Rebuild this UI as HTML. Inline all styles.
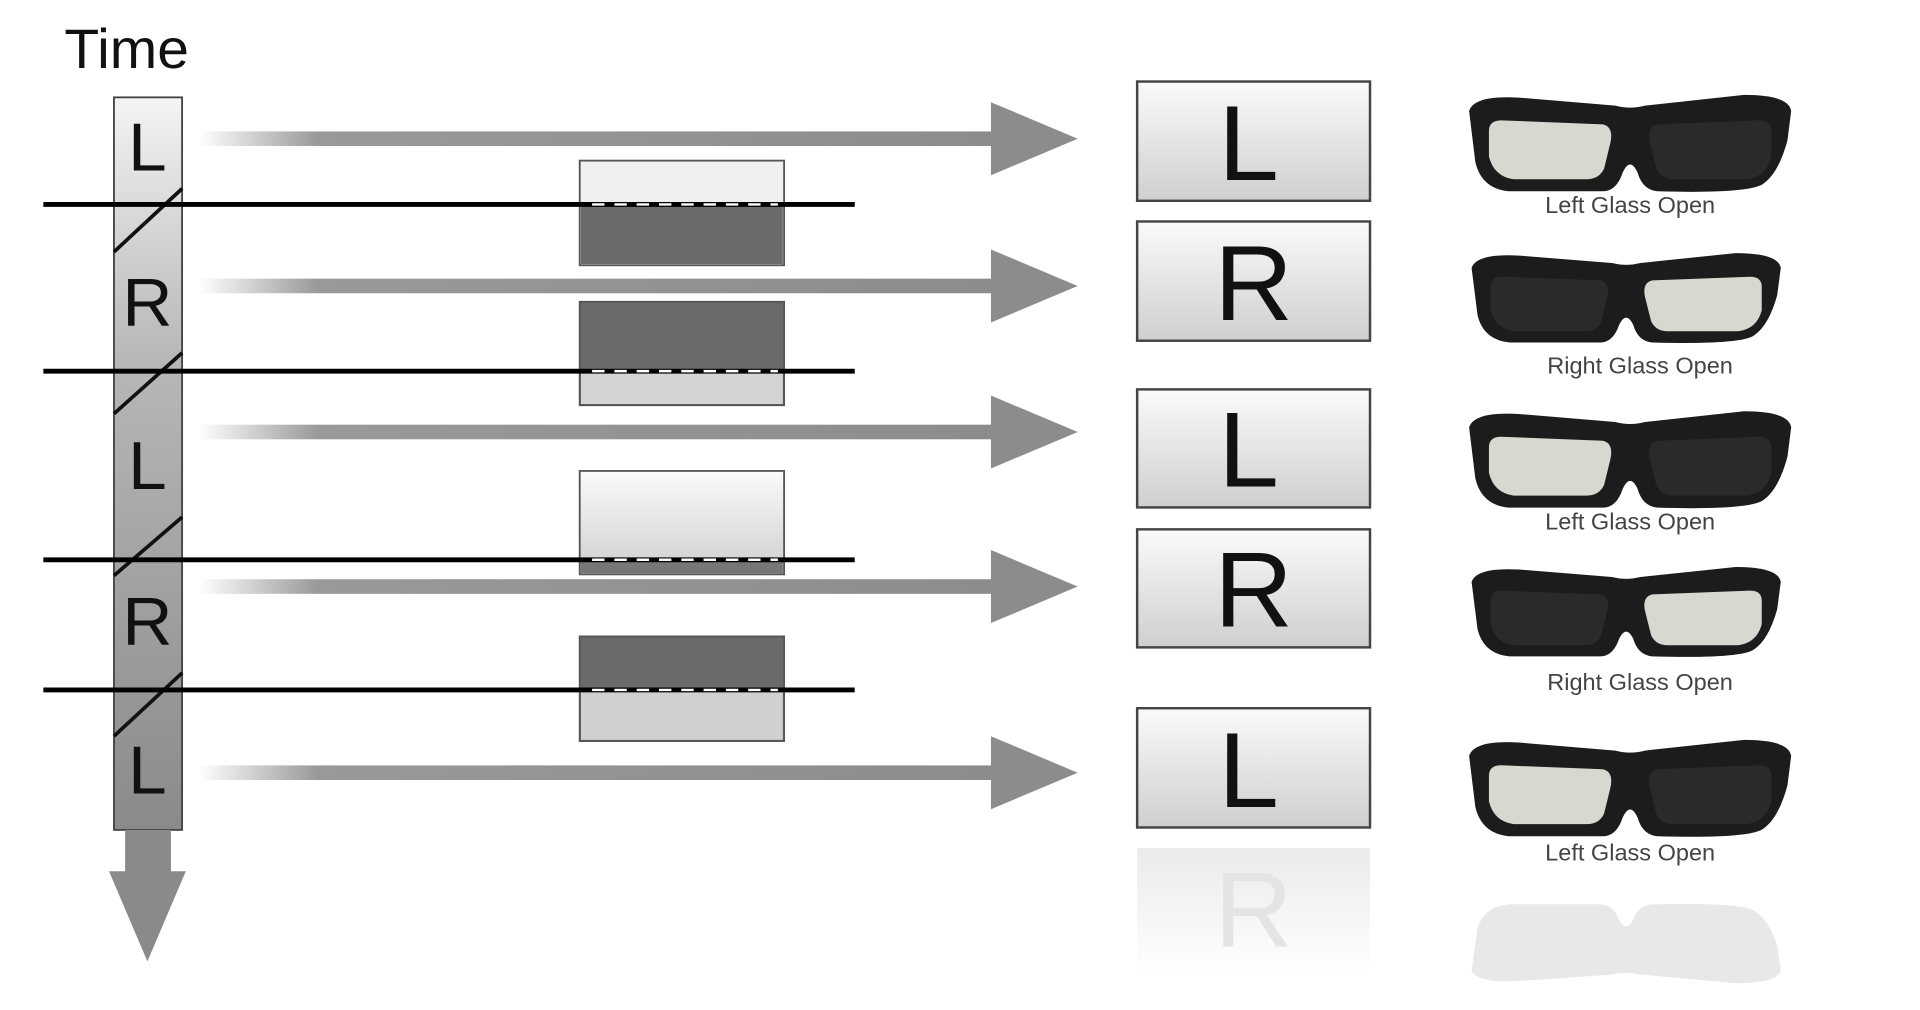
<!DOCTYPE html>
<html><head><meta charset="utf-8"><style>html,body{margin:0;padding:0;background:#fff;}svg{display:block}</style></head>
<body>
<svg width="1920" height="1010" viewBox="0 0 1550 830" preserveAspectRatio="none" xmlns="http://www.w3.org/2000/svg">
<defs>
<linearGradient id="bar" x1="0" y1="0" x2="0" y2="1">
<stop offset="0" stop-color="#f4f4f4"/><stop offset="0.35" stop-color="#b8b8b8"/><stop offset="1" stop-color="#8a8a8a"/></linearGradient>
<linearGradient id="arr" x1="0" y1="0" x2="1" y2="0">
<stop offset="0" stop-color="#fff"/><stop offset="0.15" stop-color="#999"/><stop offset="1" stop-color="#8c8c8c"/></linearGradient>
<linearGradient id="box" x1="0" y1="0" x2="0" y2="1">
<stop offset="0" stop-color="#fafafa"/><stop offset="1" stop-color="#cfcfcf"/></linearGradient>
<linearGradient id="fade" x1="0" y1="0" x2="0" y2="1">
<stop offset="0" stop-color="#ddd"/><stop offset="1" stop-color="#fff"/></linearGradient>
<g id="gl">
<path d="M0,12 Q4,0 40,2 L118,8 Q130,11 142,8 L222,0 Q258,0 260,12 L257,34 Q250,58 238,66 Q228,74 152,72 Q140,71 136,58 Q130,46 124,58 Q119,72 108,72 L32,72 Q10,70 5,50 Z" fill="#1c1c1c"/>
</g>
<g id="lensL"><path d="M16,27 Q16,19 26,19 L108,22 Q117,24 114,36 L109,55 Q105,63 95,63 L36,63 Q20,61 16,46Z"/></g>
<g id="lensR"><path d="M244,27 Q244,19 234,19 L152,22 Q143,24 146,36 L151,55 Q155,63 165,63 L224,63 Q240,61 244,46Z"/></g>
</defs>
<text x="52" y="56" font-family="Liberation Sans, sans-serif" font-size="46" fill="#111">Time</text>
<rect x="92" y="80" width="55" height="602" fill="url(#bar)" stroke="#444" stroke-width="1.5"/>
<rect x="101" y="682" width="37" height="36" fill="#8a8a8a"/>
<polygon points="88,716 150,716 119,790" fill="#8a8a8a"/>
<g font-family="Liberation Sans, sans-serif" font-size="56" fill="#111" text-anchor="middle">
<text x="119" y="140">L</text><text x="119" y="268">R</text><text x="119" y="402">L</text><text x="119" y="530">R</text><text x="119" y="652">L</text></g>
<g stroke="#111" stroke-width="3">
<line x1="92" y1="207" x2="147" y2="155"/><line x1="92" y1="340" x2="147" y2="290"/><line x1="92" y1="473" x2="147" y2="425"/><line x1="92" y1="605" x2="147" y2="553"/></g>
<rect x="468" y="132" width="165" height="86" fill="#f0f0f0" stroke="#555" stroke-width="1.5"/>
<rect x="469" y="168" width="163" height="49" fill="#6a6a6a"/>
<rect x="468" y="248" width="165" height="85" fill="#6a6a6a" stroke="#555" stroke-width="1.5"/>
<rect x="469" y="305" width="163" height="27" fill="#d4d4d4"/>
<rect x="468" y="387" width="165" height="85" fill="url(#box)" stroke="#555" stroke-width="1.5"/>
<rect x="469" y="460" width="163" height="11" fill="#777"/>
<rect x="468" y="523" width="165" height="86" fill="#6a6a6a" stroke="#555" stroke-width="1.5"/>
<rect x="469" y="567" width="163" height="41" fill="#d0d0d0"/>
<g stroke="#000" stroke-width="4">
<line x1="35" y1="168" x2="690" y2="168"/><line x1="35" y1="305" x2="690" y2="305"/><line x1="35" y1="460" x2="690" y2="460"/><line x1="35" y1="567" x2="690" y2="567"/></g>
<g stroke="#fff" stroke-width="2" stroke-dasharray="10,8">
<line x1="478" y1="168" x2="628" y2="168"/><line x1="478" y1="305" x2="628" y2="305"/><line x1="478" y1="460" x2="628" y2="460"/><line x1="478" y1="567" x2="628" y2="567"/></g>
<g fill="url(#arr)">
<rect x="160" y="108" width="645" height="12"/><rect x="160" y="229" width="645" height="12"/><rect x="160" y="349" width="645" height="12"/><rect x="160" y="476" width="645" height="12"/><rect x="160" y="629" width="645" height="12"/></g>
<g fill="#8c8c8c">
<polygon points="800,84 870,114 800,144"/><polygon points="800,205 870,235 800,265"/><polygon points="800,325 870,355 800,385"/><polygon points="800,452 870,482 800,512"/><polygon points="800,605 870,635 800,665"/></g>
<g stroke="#444" stroke-width="2" fill="url(#box)">
<rect x="918" y="67" width="188" height="98"/><rect x="918" y="182" width="188" height="98"/><rect x="918" y="320" width="188" height="97"/><rect x="918" y="435" width="188" height="97"/><rect x="918" y="582" width="188" height="98"/></g>
<rect x="918" y="697" width="188" height="105" fill="url(#fade)" opacity="0.6"/>
<g font-family="Liberation Sans, sans-serif" font-size="88" fill="#111" text-anchor="middle">
<text x="1008" y="148">L</text><text x="1012" y="263">R</text><text x="1008" y="400">L</text><text x="1012" y="515">R</text><text x="1008" y="663">L</text></g>
<text x="1012" y="778" font-family="Liberation Sans, sans-serif" font-size="88" fill="#e4e4e4" text-anchor="middle">R</text>
<g transform="translate(1186,78) scale(1,1.1)"><use href="#gl"/><use href="#lensL" fill="#d8d8d0"/><use href="#lensR" fill="#2a2a2a"/></g>
<g transform="translate(1188,208) scale(0.96,1.02)"><use href="#gl"/><use href="#lensL" fill="#2a2a2a"/><use href="#lensR" fill="#d8d8d0"/></g>
<g transform="translate(1186,338) scale(1,1.1)"><use href="#gl"/><use href="#lensL" fill="#d8d8d0"/><use href="#lensR" fill="#2a2a2a"/></g>
<g transform="translate(1188,466) scale(0.96,1.02)"><use href="#gl"/><use href="#lensL" fill="#2a2a2a"/><use href="#lensR" fill="#d8d8d0"/></g>
<g transform="translate(1186,608) scale(1,1.1)"><use href="#gl"/><use href="#lensL" fill="#d8d8d0"/><use href="#lensR" fill="#2a2a2a"/></g>
<g transform="translate(1188,808) scale(0.96,-0.9)" opacity="0.1"><use href="#gl"/></g>
<g font-family="Liberation Sans, sans-serif" font-size="19" fill="#444" text-anchor="middle">
<text x="1316" y="175">Left Glass Open</text><text x="1324" y="307">Right Glass Open</text><text x="1316" y="435">Left Glass Open</text><text x="1324" y="567">Right Glass Open</text><text x="1316" y="707">Left Glass Open</text></g>
</svg>
</body></html>
